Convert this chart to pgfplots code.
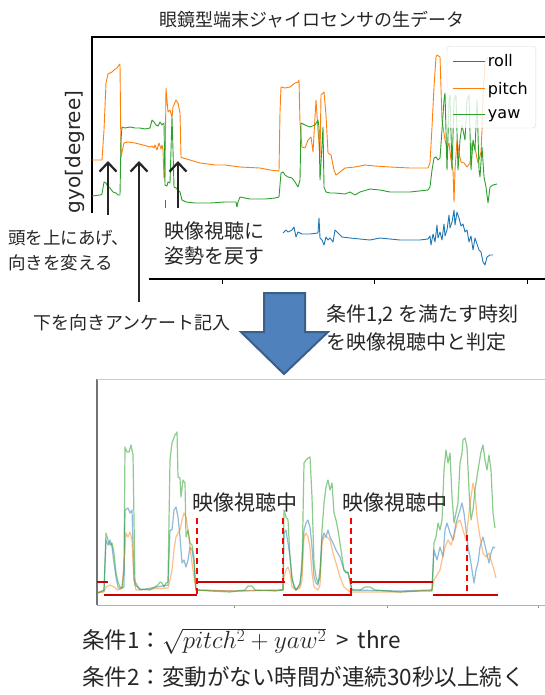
\documentclass[border=0pt]{standalone}
\usepackage{pgfplots}
\pgfplotsset{compat=1.18}
\usepackage{fontspec}
\usetikzlibrary{arrows.meta}
\newfontfamily\jp{Noto Sans CJK JP}
\newfontfamily\dv{DejaVu Sans}
\definecolor{tabblue}{HTML}{1F77B4}
\definecolor{taborange}{HTML}{FF7F0E}
\definecolor{tabgreen}{HTML}{2CA02C}
\definecolor{arrowblue}{HTML}{4F81BD}
\definecolor{arrowedge}{HTML}{3A5F8B}
\definecolor{txt}{HTML}{262626}
\newcommand{\fs}[1]{\fontsize{#1}{#1}\selectfont}

\pgfplotstableread{
x y
283 233
286 230
288 232
292 230
294 227
296 237
298 232
302 234
310 234
318 233
319 218
320 238
322 240
324 245
326 237
328 240
330 238
333 242
335 230
338 233
342 237
350 238
360 239
370 240
380 238
400 240
420 240
428 239
430 236
431 245
433 234
435 242
437 225
438 238
440 232
442 240
444 224
445 236
447 230
449 215
450 228
452 222
454 210
455 225
457 212
459 218
461 226
463 224
465 232
467 230
469 242
471 236
473 250
475 238
477 244
479 250
481 252
483 262
485 265
487 257
490 255
493 255
}\rolltop

\pgfplotstableread{
x y
92 160
102 160
104 130
106 83
108 74
110 73
112 72
114 70
117 68
119 65
120 64
121 157
124 143
128 142
135 143
143 145
150 147
152 146
154 148
155 145
157 150
159 143
161 149
162 145
163 150
164 178
165 176
166 88
168 112
170 110
172 117
173 107
176 100
178 103
180 113
181 157
183 158
190 160
200 163
215 165
225 165
240 167
260 168
270 170
279 171
280 112
281 87
285 88
290 87
295 83
298 82
299 80
300 123
302 147
305 148
308 140
311 137
313 152
316 100
318 130
320 157
321 95
324 92
326 115
328 153
331 155
334 170
336 175
340 172
345 168
355 167
365 165
375 166
390 167
410 168
428 168
430 163
432 127
434 87
436 57
437 55
440 57
442 120
445 140
447 148
449 143
451 160
453 170
454 202
455 170
457 140
459 153
461 162
464 163
467 167
470 163
472 143
474 145
476 153
478 163
479 160
481 152
482 130
483 97
485 63
487 58
490 57
}\pitchtop

\pgfplotstableread{
x y
92 196
100 195
102 194
104 182
106 183
108 187
110 188
113 192
116 193
118 195
120 195
121 140
122 127
125 128
130 127
135 128
140 128
145 129
150 128
152 120
154 122
156 125
158 126
160 122
162 125
164 123
165 185
167 186
168 182
170 183
171 150
172 117
173 150
174 187
176 188
178 190
180 192
182 200
186 202
195 203
210 203
225 202
236 202
237 207
238 202
240 197
250 199
265 199
275 198
279 197
281 173
283 172
285 175
288 177
292 178
295 182
298 187
300 180
301 123
305 125
310 127
315 125
318 120
319 127
320 180
321 163
323 127
324 187
326 192
330 193
335 193
345 194
350 192
355 195
360 192
370 189
380 190
390 192
410 192
428 190
430 187
432 170
434 158
436 157
438 160
440 158
442 130
444 100
445 93
447 170
449 100
450 95
452 170
454 100
456 95
458 170
460 140
462 125
465 140
467 100
469 95
471 170
473 140
475 150
477 100
479 170
480 177
482 147
484 177
486 187
488 203
490 187
493 185
497 184
}\yawtop

\pgfplotstableread{
x y
97 593
104 591
106 540
108 545
110 540
112 547
114 563
116 577
118 587
120 589
124 587
125 510
128 508
130 513
132 510
134 580
140 590
168 585
170 530
172 530
174 510
176 507
178 517
180 537
182 563
184 560
186 567
188 560
190 547
192 550
194 563
196 590
230 591
283 590
284 533
286 530
288 543
290 557
292 580
296 590
300 585
302 560
304 530
306 523
308 520
310 527
312 547
314 577
316 583
318 585
320 570
322 540
324 533
326 537
328 530
330 537
333 543
336 550
340 557
344 570
348 573
350 580
352 590
400 591
432 590
434 550
437 560
440 547
443 557
445 530
447 523
450 533
453 540
456 523
460 510
462 503
464 513
466 530
468 547
470 557
472 570
474 583
476 570
478 563
480 547
483 537
486 550
489 563
491 553
493 547
495 548
}\rollbot

\pgfplotstableread{
x y
97 593
104 592
106 587
110 585
114 587
118 590
122 588
124 563
126 533
128 537
130 532
132 540
134 580
136 590
168 588
170 580
172 570
174 550
176 537
178 533
180 530
182 520
184 513
186 517
188 530
190 547
192 563
194 577
196 590
240 591
283 590
284 577
286 570
288 567
290 573
292 587
296 590
300 588
302 580
304 537
306 533
308 537
310 547
312 573
314 587
318 590
320 585
322 543
324 537
327 537
330 540
333 553
336 563
340 577
344 587
350 592
400 592
432 590
434 580
437 575
440 570
442 560
445 547
448 540
451 545
454 537
457 523
460 520
463 530
466 540
469 513
471 497
473 483
475 493
477 517
480 537
483 553
486 557
489 553
491 560
494 570
496 578
}\pitchbot

\pgfplotstableread{
x y
97 593
104 590
106 533
108 540
110 545
112 543
114 553
116 573
118 582
120 587
122 588
124 570
125 447
127 452
129 452
131 445
133 455
135 585
140 589
150 590
158 585
160 582
162 583
164 587
166 583
168 582
170 460
172 443
175 435
177 432
178 477
180 478
181 497
183 480
185 483
186 537
188 530
190 543
192 545
194 557
195 577
196 590
210 591
230 592
245 590
248 586
252 586
255 590
275 591
283 590
284 510
286 517
288 520
290 557
292 577
294 587
296 590
298 587
300 583
302 570
304 463
306 460
308 458
310 457
312 497
314 563
316 577
318 583
320 577
322 530
324 503
326 487
328 480
330 490
332 483
334 513
336 520
338 530
340 543
342 557
344 570
346 573
348 572
350 583
352 590
360 590
365 587
370 587
375 590
400 592
420 591
432 591
434 543
436 537
438 523
440 530
442 520
444 470
446 450
448 463
450 453
452 497
454 523
456 513
458 503
460 463
462 453
463 440
465 438
467 447
469 490
471 520
473 510
475 490
478 470
481 452
483 445
485 460
487 470
489 455
491 470
493 513
495 528
}\yawbot

\begin{document}
\begin{tikzpicture}[x=1pt,y=1pt]
% ---------- top chart ----------
\begin{axis}[at={(318.5pt,-158pt)}, anchor=center, width=453pt, height=242pt,
  scale only axis, clip=false,
  xmin=92, xmax=545, ymin=37, ymax=279, y dir=reverse,
  axis line style={draw=none},
  xtick={222,374,527}, xticklabels={}, ytick=\empty,
  tick align=outside, xtick pos=left, major tick length=5pt,
  every tick/.style={black, line width=1pt},
  ylabel={gyo[degree]},
  every axis y label/.style={at={(axis cs:75,152)}, rotate=90, anchor=center, font=\dv\fs{20}, text=txt},
  legend style={at={(axis cs:536,46)}, anchor=north east, font=\dv\fs{16},
    draw=black!15, rounded corners=3pt, fill=white, fill opacity=0.8, text opacity=1,
    row sep=10pt, inner xsep=6pt, inner ysep=6pt, legend cell align=left},
  legend image code/.code={\draw[#1, line width=1pt] (0pt,0pt) -- (32pt,0pt);},
  every axis plot/.append style={line width=0.9pt, line join=round}
]
\draw[black, line width=1.1pt] (axis cs:92,279) -- (axis cs:92,37) -- (axis cs:545,37);
\draw[black, line width=1.1pt] (axis cs:92,279) -- (axis cs:545,279);
\addplot[tabblue, no marks] table {\rolltop};
\addplot[taborange, no marks] table {\pitchtop};
\addplot[tabgreen, no marks] table {\yawtop};
\addplot[tabblue, no marks, forget plot] coordinates {(165,200) (165,208)};
\legend{roll,pitch,yaw}
\end{axis}
% covering boxes and annotations
\fill[white] (0,-213) rectangle (149,-292);
\node[anchor=west, inner sep=0, font=\jp\fs{17.5}, text=txt] at (8,-238) {頭を上にあげ、};
\node[anchor=west, inner sep=0, font=\jp\fs{17.5}, text=txt] at (8,-263) {向きを変える};
\node[anchor=west, inner sep=0, font=\jp\fs{20}, text=txt] at (164,-231) {映像視聴に};
\node[anchor=west, inner sep=0, font=\jp\fs{20}, text=txt] at (164,-256) {姿勢を戻す};
\draw[txt, line width=2.2pt, -{Straight Barb[length=9pt,width=17pt]}] (108,-215) -- (108,-161);
\draw[txt, line width=2.2pt, -{Straight Barb[length=9pt,width=17pt]}] (139,-302) -- (139,-161);
\draw[txt, line width=2.2pt, -{Straight Barb[length=9pt,width=17pt]}] (178,-208) -- (178,-161);
\node[font=\jp\fs{18}, text=txt] at (312,-20) {眼鏡型端末ジャイロセンサの生データ};
\node[anchor=west, inner sep=0, font=\jp\fs{18}, text=txt] at (33,-323) {下を向きアンケート記入};
\node[anchor=west, inner sep=0, font=\jp\fs{20}, text=txt] at (326,-315) {条件1,2 を満たす時刻};
\node[anchor=west, inner sep=0, font=\jp\fs{20}, text=txt] at (326,-342) {を映像視聴中と判定};
\filldraw[fill=arrowblue, draw=arrowedge, line width=2pt, line join=miter]
  (264,-293) -- (305,-293) -- (305,-332) -- (328,-332) -- (284,-374) -- (241,-332) -- (264,-332) -- cycle;
% ---------- bottom chart ----------
\begin{axis}[at={(321pt,-492pt)}, anchor=center, width=448pt, height=226pt,
  scale only axis, clip=false,
  xmin=97, xmax=545, ymin=379, ymax=605, y dir=reverse,
  axis line style={draw=none},
  xtick={234,387,538}, xticklabels={}, ytick=\empty,
  tick align=outside, xtick pos=left, major tick length=3pt,
  every tick/.style={black!45, line width=0.8pt},
  every axis plot/.append style={line width=1.2pt, line join=round}
]
\draw[black!55, line width=1.2pt] (axis cs:97,379) -- (axis cs:97,605);
\draw[black!20, line width=1pt] (axis cs:97,379) -- (axis cs:545,379);
\draw[black!30, line width=1pt] (axis cs:97,605) -- (axis cs:545,605);
\addplot[tabblue, opacity=0.5, no marks] table {\rollbot};
\addplot[taborange, opacity=0.5, no marks] table {\pitchbot};
\addplot[tabgreen, opacity=0.55, no marks] table {\yawbot};
\addplot[red!80!black, line width=2pt, no marks] coordinates {(97,582) (108,582)};
\addplot[red!80!black, line width=2pt, no marks] coordinates {(196,582) (285,582)};
\addplot[red!80!black, line width=2pt, no marks] coordinates {(350,582) (433,582)};
\addplot[red!80!black, line width=2pt, no marks] coordinates {(104,595) (197,595)};
\addplot[red!80!black, line width=2pt, no marks] coordinates {(283,595) (352,595)};
\addplot[red!80!black, line width=2pt, no marks] coordinates {(433,595) (498,595)};
\addplot[red, line width=2.3pt, dash pattern=on 6pt off 4pt, no marks] coordinates {(197,518) (197,595)};
\addplot[red, line width=2.3pt, dash pattern=on 6pt off 4pt, no marks] coordinates {(283,518) (283,582)};
\addplot[red, line width=2.3pt, dash pattern=on 6pt off 4pt, no marks] coordinates {(351,518) (351,595)};
\addplot[red, line width=2.3pt, dash pattern=on 6pt off 4pt, no marks] coordinates {(467,535) (467,595)};
\end{axis}
\node[font=\jp\fs{21}, text=txt] at (244.5,-503) {映像視聴中};
\node[font=\jp\fs{21}, text=txt] at (394.5,-503) {映像視聴中};
% ---------- conditions ----------
\node[anchor=west, inner sep=0, font=\jp\fs{22.5}, text=txt] at (82,-641) {条件1：{\fs{26}$\sqrt{pitch^2+yaw^2}$}\hspace{10pt}>\hspace{9pt}thre};
\node[anchor=west, inner sep=0, font=\jp\fs{22.5}, text=txt] at (82,-677) {条件2：変動がない時間が連続30秒以上続く};
\pgfresetboundingbox
\path[use as bounding box] (0,0) rectangle (544,-695);
\end{tikzpicture}
\end{document}
